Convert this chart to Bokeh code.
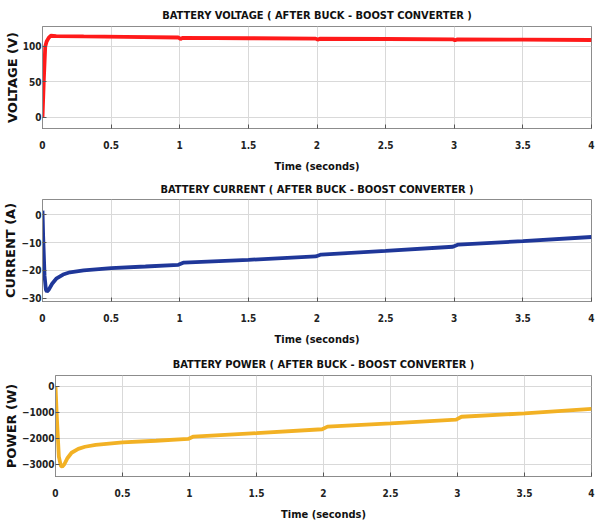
from bokeh.plotting import figure
from bokeh.models import FixedTicker, Range1d
from bokeh.embed import file_html
from bokeh.resources import INLINE

# ---------------- data ----------------
x_ticks = [0, 0.5, 1, 1.5, 2, 2.5, 3, 3.5, 4]
x_tick_labels = ["0", "0.5", "1", "1.5", "2", "2.5", "3", "3.5", "4"]

volt_t = [0, 0.01, 0.02, 0.03, 0.045, 0.06, 0.1, 0.3, 0.6, 0.99, 1.005, 1.02, 1.5,
          1.99, 2.005, 2.02, 2.5, 2.99, 3.005, 3.02, 3.5, 4.0]
volt_v = [0, 55, 100, 107, 112, 115, 114.5, 114, 113.5, 112.5, 110.5, 112, 111.5,
          111, 109.5, 110.8, 110.4, 110, 108.5, 109.8, 109.4, 109]
volt_ticks = [0, 50, 100]

curr_t = [0, 0.005, 0.015, 0.025, 0.032, 0.045, 0.07, 0.1, 0.15, 0.2, 0.3, 0.5, 0.75,
          0.99, 1.03, 1.5, 1.99, 2.03, 2.5, 2.99, 3.03, 3.5, 4]
curr_i = [1.5, -8, -22, -27, -27.6, -27, -24.8, -23, -21.5, -20.7, -20, -19.2, -18.6,
          -18, -17.2, -16.2, -15, -14.3, -13, -11.5, -10.7, -9.5, -8]
curr_ticks = [-30, -20, -10, 0]

pow_t = [0, 0.01, 0.025, 0.04, 0.05, 0.065, 0.09, 0.12, 0.17, 0.22, 0.3, 0.5, 0.75,
         0.99, 1.03, 1.5, 1.99, 2.03, 2.5, 2.99, 3.03, 3.5, 4]
pow_p = [0, -1200, -2700, -3050, -3080, -3000, -2750, -2550, -2400, -2320, -2250, -2150,
         -2090, -2020, -1930, -1800, -1650, -1550, -1425, -1280, -1170, -1040, -870]
pow_ticks = [-3000, -2000, -1000, 0]

NARROW = "'DejaVu Sans Condensed', sans-serif"
WIDE = "'DejaVu Sans', sans-serif"


def panel(title, ylabel, t, y, color, yr, yticks, height, top, bottom, left, t_standoff):
    p = figure(width=602, height=height, x_range=Range1d(0, 4), y_range=Range1d(*yr),
               output_backend="svg", toolbar_location=None,
               min_border_left=left, min_border_right=11,
               min_border_top=top, min_border_bottom=bottom)
    p.title.text = title
    p.title.align = "center"
    p.title.text_font = NARROW
    p.title.text_font_size = "11px"
    p.title.text_font_style = "bold"
    p.title.text_color = "#111111"
    p.title.standoff = t_standoff

    p.line(t, y, line_color=color, line_width=3.8)

    p.outline_line_color = "#8c8c8c"
    p.background_fill_color = "white"
    p.border_fill_color = "white"

    xa = p.xaxis[0]
    xa.ticker = FixedTicker(ticks=x_ticks)
    xa.major_label_overrides = {float(k): v for k, v in zip(x_ticks, x_tick_labels)}
    xa.axis_label = "Time (seconds)"
    ya = p.yaxis[0]
    ya.ticker = FixedTicker(ticks=yticks)
    ya.axis_label = ylabel
    for ax in (xa, ya):
        ax.major_tick_in = 4
        ax.major_tick_out = 0
        ax.minor_tick_line_color = None
        ax.axis_line_color = "#8c8c8c"
        ax.major_tick_line_color = "#555555"
        ax.major_label_text_font = NARROW
        ax.major_label_text_font_size = "10px"
        ax.major_label_text_font_style = "bold"
        ax.major_label_text_color = "#222222"
    xa.major_label_standoff = 12
    xa.axis_label_standoff = 8
    xa.axis_label_text_font = NARROW
    xa.axis_label_text_font_size = "11px"
    xa.axis_label_text_font_style = "bold"
    xa.axis_label_text_color = "#111111"
    ya.major_label_standoff = 1
    ya.axis_label_standoff = 0
    ya.axis_label_text_font = WIDE
    ya.axis_label_text_font_size = "13px"
    ya.axis_label_text_font_style = "bold"
    ya.axis_label_text_color = "#111111"

    p.xgrid.ticker = FixedTicker(ticks=x_ticks)
    p.ygrid.ticker = FixedTicker(ticks=yticks)
    p.xgrid.grid_line_color = "#d9d9d9"
    p.ygrid.grid_line_color = "#d9d9d9"
    return p


p1 = panel("BATTERY VOLTAGE ( AFTER BUCK - BOOST CONVERTER )", "VOLTAGE (V)",
           volt_t, volt_v, "#ff1a1a", (-15.5, 128), volt_ticks, 176, 26, 48, 42, 9)
p2 = panel("BATTERY CURRENT ( AFTER BUCK - BOOST CONVERTER )", "CURRENT (A)",
           curr_t, curr_i, "#1f3799", (-31.2, 5.5), curr_ticks, 174, 23, 49, 41, 7)
p3 = panel("BATTERY POWER ( AFTER BUCK - BOOST CONVERTER )", "POWER (W)",
           pow_t, pow_p, "#f2b124", (-3460, 410), pow_ticks, 176, 25, 50, 49, 10)

open("out.html", "w").write(file_html([p1, p2, p3], INLINE))
